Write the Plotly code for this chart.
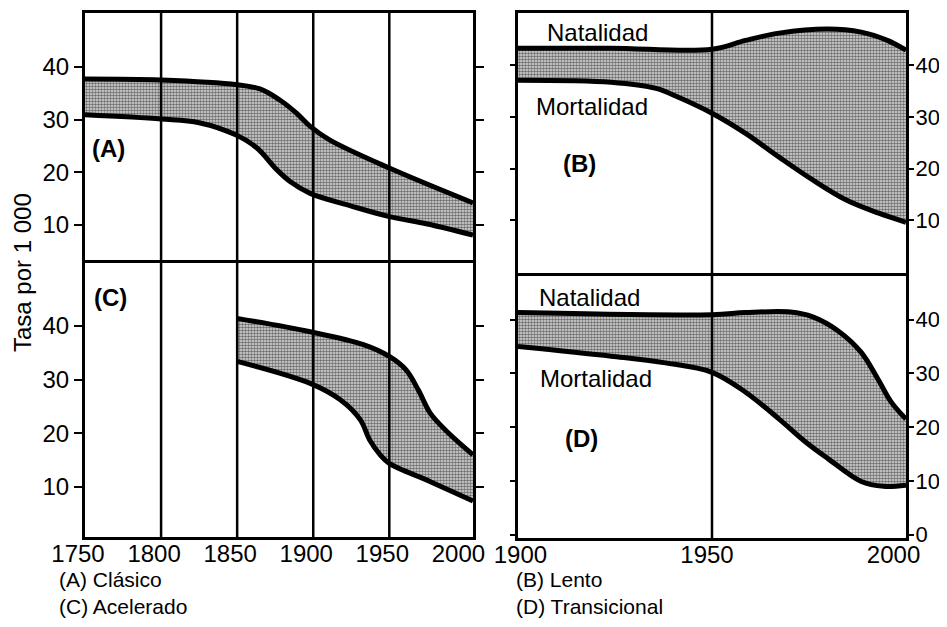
import plotly.graph_objects as go

# the page body keeps its default 8 px margin, so the figure is placed at (8, 8);
# keep it small enough that the page does not scroll
OFF = 8
W, H = 947 - 2 * OFF, 627 - 2 * OFF

# ---------------- data ----------------
# (A) Clasico
A_years_nat = [1750, 1800, 1850, 1865, 1878, 1889, 1898, 1911, 1950, 2005]
A_nat = [37.7, 37.5, 36.6, 35.8, 33.7, 31.2, 28.7, 26.1, 20.8, 14.2]
A_years_mort = [1750, 1800, 1825, 1849, 1863, 1876, 1885, 1898, 1925, 1950, 1975, 2005]
A_mort = [30.9, 30.1, 29.4, 27.1, 24.6, 20.5, 18.2, 16.0, 13.6, 11.6, 10.2, 8.1]

# (C) Acelerado
C_years_nat = [1850, 1898, 1933, 1950, 1961, 1969, 1977, 1988, 2005]
C_nat = [41.4, 38.9, 36.5, 34.3, 31.8, 28.1, 23.7, 20.3, 16.0]
C_years_mort = [1850, 1898, 1918, 1931, 1937, 1944, 1950, 1977, 2005]
C_mort = [33.4, 29.3, 26.2, 22.5, 18.8, 16.0, 14.4, 11.0, 7.4]

# (B) Lento
B_years_nat = [1898, 1923, 1950, 1959, 1968, 1981, 1990, 1997, 2002]
B_nat = [43.3, 43.3, 43.1, 44.8, 46.2, 47.0, 46.4, 44.8, 42.9]
B_years_mort = [1898, 1923, 1935, 1941, 1950, 1959, 1968, 1977, 1986, 1994.5, 2002]
B_mort = [37.1, 36.7, 35.5, 33.8, 30.7, 26.8, 22.2, 17.8, 13.9, 11.4, 9.6]

# (D) Transicional
D_years_nat = [1898, 1950, 1959, 1971, 1977, 1984, 1990, 1994.5, 1998, 2002]
D_nat = [41.3, 40.9, 41.3, 41.4, 40.5, 37.8, 33.9, 28.9, 24.7, 21.5]
D_years_mort = [1898, 1923, 1937, 1950, 1959, 1968, 1975, 1981, 1990, 1996, 2002]
D_mort = [35.0, 33.2, 32.0, 30.2, 26.5, 21.5, 17.3, 14.2, 9.9, 9.0, 9.2]

left_ticks_x = [1750, 1800, 1850, 1900, 1950, 2000]
left_grid_x = [1800, 1850, 1900, 1950]
right_ticks_x = [1900, 1950, 2000]
right_grid_x = [1950]
y_ticks = [10, 20, 30, 40]
y_ticks_d = [0, 10, 20, 30, 40]

FONT = "Liberation Sans, Arial, sans-serif"
FS = 24
R_EDGE = 906


def px_x(p):
    return (p - OFF) / W


def px_y(p):
    return 1 - (p - OFF) / H


fig = go.Figure()

panels = [
    ("x", "y", A_years_nat, A_nat, A_years_mort, A_mort),
    ("x2", "y2", C_years_nat, C_nat, C_years_mort, C_mort),
    ("x3", "y3", B_years_nat, B_nat, B_years_mort, B_mort),
    ("x4", "y4", D_years_nat, D_nat, D_years_mort, D_mort),
]

for xa, ya, xn, yn, xm, ym in panels:
    # fill between the two rates
    fig.add_trace(go.Scatter(x=xm, y=ym, xaxis=xa, yaxis=ya, mode="lines",
                             line=dict(width=0, shape="spline", smoothing=1.0),
                             hoverinfo="skip", showlegend=False))
    fig.add_trace(go.Scatter(x=xn, y=yn, xaxis=xa, yaxis=ya, mode="lines",
                             line=dict(width=0, shape="spline", smoothing=1.0),
                             fill="tonexty", fillcolor="rgba(0,0,0,0)",
                             fillpattern=dict(shape=".", fgcolor="black", bgcolor="#dcdcdc",
                                              size=3, solidity=0.55),
                             hoverinfo="skip", showlegend=False))
    # the lines themselves
    fig.add_trace(go.Scatter(x=xn, y=yn, xaxis=xa, yaxis=ya, mode="lines", name="Natalidad",
                             line=dict(color="black", width=5, shape="spline", smoothing=1.0),
                             showlegend=False))
    fig.add_trace(go.Scatter(x=xm, y=ym, xaxis=xa, yaxis=ya, mode="lines", name="Mortalidad",
                             line=dict(color="black", width=5, shape="spline", smoothing=1.0),
                             showlegend=False))

frame = dict(showline=True, linewidth=3, linecolor="black", mirror=True,
             showgrid=False, zeroline=False, automargin=False)
top_frame = dict(showline=True, linewidth=3, linecolor="black", mirror=False, side="top",
                 showgrid=False, zeroline=False, automargin=False)
tickstyle = dict(ticks="outside", ticklen=8, tickwidth=2, tickcolor="black",
                 tickfont=dict(family=FONT, size=FS, color="black"))
tickstyle_r = dict(ticks="outside", ticklen=5, tickwidth=2, tickcolor="black",
                   ticklabelstandoff=-3,
                   tickfont=dict(family=FONT, size=22, color="black"))

fig.update_layout(
    width=W, height=H,
    margin=dict(l=0, r=0, t=0, b=0),
    paper_bgcolor="white", plot_bgcolor="white",
    font=dict(family=FONT, size=FS, color="black"),
    showlegend=False,
    xaxis=dict(domain=[px_x(85), px_x(473)], anchor="y", range=[1750, 2005],
               showticklabels=False, ticks="", **top_frame),
    yaxis=dict(domain=[px_y(263), px_y(13)], anchor="x", range=[2.8, 50.2],
               tickvals=y_ticks, **frame, **tickstyle),
    xaxis2=dict(domain=[px_x(85), px_x(473)], anchor="y2", range=[1750, 2005],
                tickvals=left_ticks_x, ticks="", ticklabelstandoff=-7, ticklabelshift=-7,
                tickfont=dict(family=FONT, size=FS, color="black"), **frame),
    yaxis2=dict(domain=[px_y(537), px_y(263)], anchor="x2", range=[0.7, 51.7],
                tickvals=y_ticks, **frame, **tickstyle),
    xaxis3=dict(domain=[px_x(518), px_x(R_EDGE)], anchor="y3", range=[1898, 2002],
                showticklabels=False, ticks="", **top_frame),
    yaxis3=dict(domain=[px_y(276), px_y(13)], anchor="x3", range=[-0.8, 50.1], side="right",
                tickvals=y_ticks, **frame, **tickstyle_r),
    xaxis4=dict(domain=[px_x(518), px_x(R_EDGE)], anchor="y4", range=[1898, 2002],
                tickvals=right_ticks_x, ticks="", ticklabelstandoff=-7, ticklabelshift=-5,
                tickfont=dict(family=FONT, size=FS, color="black"), **frame),
    yaxis4=dict(domain=[px_y(538), px_y(276)], anchor="x4", range=[-0.6, 48.1], side="right",
                tickvals=y_ticks_d, **frame, **tickstyle_r),
)
# mirrored tick marks on the opposite side
for ax in ["yaxis", "yaxis2", "yaxis3", "yaxis4"]:
    fig.layout[ax].mirror = "ticks"

shapes = []
for xv in left_grid_x:
    for xr, yr in [("x", "y domain"), ("x2", "y2 domain")]:
        shapes.append(dict(type="line", xref=xr, yref=yr, x0=xv, x1=xv, y0=0, y1=1,
                           line=dict(color="black", width=2.5), layer="above"))
for xv in right_grid_x:
    for xr, yr in [("x3", "y3 domain"), ("x4", "y4 domain")]:
        shapes.append(dict(type="line", xref=xr, yref=yr, x0=xv, x1=xv, y0=0, y1=1,
                           line=dict(color="black", width=2.5), layer="above"))
fig.update_layout(shapes=shapes)


def note(text, x, y, bold=False, xanchor="center", angle=0, size=FS):
    fig.add_annotation(text=f"<b>{text}</b>" if bold else text,
                       x=px_x(x), y=px_y(y), xref="paper", yref="paper",
                       xanchor=xanchor, yanchor="middle", showarrow=False, align="left",
                       textangle=angle, font=dict(family=FONT, size=size, color="black"))


note("(A)", 108, 148, bold=True)
note("(C)", 110, 297, bold=True)
note("(B)", 579, 164, bold=True)
note("(D)", 581, 438, bold=True)
note("Natalidad", 597, 32)
note("Mortalidad", 592, 107)
note("Natalidad", 589, 297)
note("Mortalidad", 596, 378)
note("Tasa por 1 000", 22, 273, angle=-90)
note("(A) Clásico<br>(C) Acelerado", 57, 593, xanchor="left", size=21)
note("(B) Lento<br>(D) Transicional", 514, 593, xanchor="left", size=21)

fig.write_html("out.html")
